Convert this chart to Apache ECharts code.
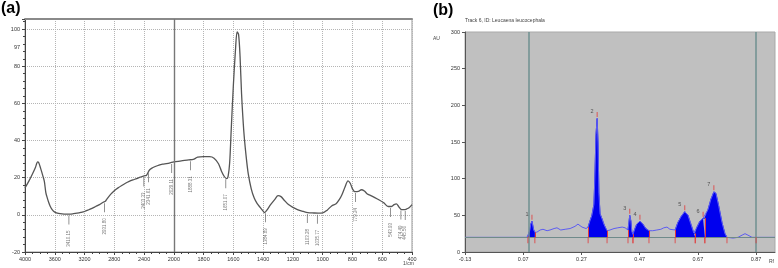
<!DOCTYPE html>
<html><head><meta charset="utf-8">
<script src="https://cdn.jsdelivr.net/npm/echarts@6/dist/echarts.min.js"></script>
<style>html,body{margin:0;padding:0;background:#fff}#c{width:778px;height:268px}</style>
</head><body><div id="c"></div>
<script>
// ---------- Panel (a): FTIR spectrum ----------
const irWavenumber = [4000,3950,3900,3860,3830,3815,3790,3760,3740,3720,3700,3680,3660,3630,3600,3550,3500,3450,3400,3350,3300,3250,3200,3150,3100,3050,3000,2950,2920,2900,2850,2800,2750,2700,2650,2600,2550,2500,2450,2400,2370,2350,2330,2300,2250,2200,2150,2100,2050,2000,1950,1900,1870,1840,1800,1760,1730,1700,1680,1660,1645,1635,1625,1615,1600,1585,1575,1565,1555,1545,1530,1515,1500,1480,1460,1440,1420,1400,1390,1375,1350,1320,1300,1280,1260,1230,1200,1170,1130,1100,1060,1030,1000,970,940,910,890,870,850,830,815,800,785,760,740,720,700,680,650,620,590,560,540,520,505,490,470,450,435,420,400];
const irTransmittance = [14.5,18,22,25.5,28.5,28,25,21,18,12,9,6.5,4.5,2.5,1.5,0.8,0.5,0.4,0.4,0.6,0.9,1.3,1.8,2.6,3.5,4.5,5.5,6.8,7.3,8.5,11,13,14.5,15.8,17,18,18.8,19.5,20.3,21,21.2,22.5,24,25,26,26.8,27.3,27.6,28,28.5,29,29.6,29.8,31,31.3,31.3,30.5,27.5,23.5,20.5,19.5,21,28,45,70,90,98.5,97,85,65,45,32,22,14,9,6,4,2,1.2,2.5,5.5,8.5,10.3,9.8,8,5.5,4,2.8,1.8,1.2,1,0.9,1,2.5,4.8,6,8,11,15,18.3,17,14,12.5,12.6,13.5,12.8,11.2,10.5,9.3,8,6.5,4.5,4.5,5.5,5.9,4.5,2.8,2.8,3.2,3.8,5.5];
const irTickLabels = [4000,3600,3200,2800,2400,2000,1800,1600,1400,1200,1000,800,600,400];
const irPeakMarks = [3410.15,2931.80,2403.33,2341.61,2029.11,1888.31,1651.07,1384.89,1103.28,1035.77,779.24,543.93,474.49,445.56];
const irOddLabel = {value: 90, text: '97'};

// ---------- Panel (b): HPTLC densitogram ----------
const rfValues = [-0.13,0.083,0.086,0.093,0.096,0.100,0.103,0.106,0.110,0.117,0.128,0.138,0.152,0.162,0.176,0.186,0.199,0.214,0.231,0.248,0.258,0.272,0.286,0.293,0.299,0.306,0.313,0.316,0.320,0.324,0.327,0.330,0.334,0.341,0.347,0.354,0.358,0.368,0.382,0.395,0.410,0.420,0.430,0.433,0.436,0.440,0.443,0.447,0.454,0.460,0.471,0.481,0.491,0.502,0.515,0.529,0.543,0.553,0.564,0.574,0.592,0.601,0.612,0.625,0.636,0.646,0.656,0.661,0.667,0.677,0.688,0.694,0.705,0.715,0.725,0.732,0.742,0.753,0.763,0.770,0.791,0.808,0.822,0.832,0.842,0.856,0.935];
const auValues = [20,20,21,30,38,42,40,30,27,27,30,31,29,30,32,33,30,31,32,35,38,34,32,34,42,50,65,100,160,182,150,80,52,45,38,32,29,30,32,33,34,33,30,40,50,42,28,24,32,38,42,38,32,29,29,30,31,33,34,31,30,40,48,55,50,38,26,25,34,42,46,46,58,72,82,80,62,40,25,20,19,20,23,25,23,20,20];
const peakNames = ['1','2','3','4','5','6','7'];
const peakStart = [0.086,0.293,0.430,0.447,0.592,0.661,0.694];
const peakEnd   = [0.110,0.358,0.447,0.502,0.661,0.694,0.770];
const baselineAU = 20;
const startLineRf = 0.085;
const frontLineRf = 0.87;
const rfTickLabels = ['-0.13','0.07','0.27','0.47','0.67','0.87'];

// ---------- helpers ----------
const toP = w => w >= 2000 ? (4000 - w) / 4 : 500 + (2000 - w) / 2;
const fromP = p => p <= 500 ? 4000 - 4 * p : 2000 - 2 * (p - 500);
function interp(xs, ys, x) {
  for (let i = 0; i < xs.length - 1; i++) {
    const a = xs[i], b = xs[i + 1];
    if ((x - a) * (x - b) <= 0) {
      const t = b === a ? 0 : (x - a) / (b - a);
      return ys[i] + t * (ys[i + 1] - ys[i]);
    }
  }
  return ys[ys.length - 1];
}

const irData = irWavenumber.map((w, i) => [toP(w), irTransmittance[i]]);
const irMarkData = irPeakMarks.map(w => ({value: [toP(w), interp(irWavenumber, irTransmittance, w)], name: w.toFixed(2)}));

const tlcData = rfValues.map((r, i) => [r, auValues[i]]);
const peakSeries = peakStart.map((s, k) => ({
  type: 'line', xAxisIndex: 1, yAxisIndex: 1, symbol: 'none', z: 2,
  data: tlcData.filter(d => d[0] >= s - 1e-9 && d[0] <= peakEnd[k] + 1e-9),
  lineStyle: {color: '#0000ee', width: 0.8},
  areaStyle: {color: '#0000ee', opacity: 1, origin: baselineAU},
  silent: true
}));
const apexData = peakStart.map((s, k) => {
  let best = null;
  tlcData.forEach(d => { if (d[0] >= s && d[0] <= peakEnd[k] && (!best || d[1] > best[1])) best = d; });
  return {value: best, name: peakNames[k]};
});
const boundaries = [];
peakStart.forEach((s, k) => { boundaries.push(s); boundaries.push(peakEnd[k]); });
const boundaryLines = boundaries.map(b => [
  {coord: [b, baselineAU]}, {coord: [b, interp(rfValues, auValues, b)]}
]);
const baseMarks = boundaries.concat([frontLineRf]).map(b => [b, baselineAU]);

const chart = echarts.init(document.getElementById('c'), null, {renderer: 'canvas'});
const small = {fontFamily: 'Arial, Liberation Sans, sans-serif', fontSize: 5.5, color: '#333'};

chart.setOption({
  animation: false,
  backgroundColor: '#ffffff',
  graphic: [
    {type: 'text', left: 1, top: 1, style: {text: '(a)', font: 'bold 16px Arial, Liberation Sans, sans-serif', fill: '#000'}},
    {type: 'text', left: 433, top: 3, style: {text: '(b)', font: 'bold 16px Arial, Liberation Sans, sans-serif', fill: '#000'}},
    {type: 'text', left: 465, top: 18, style: {text: 'Track 6, ID: Leucaena leucocephala', font: '5px Arial, Liberation Sans, sans-serif', fill: '#444'}},
    {type: 'text', left: 433, top: 36, style: {text: 'AU', font: '5px Arial, Liberation Sans, sans-serif', fill: '#444'}},
    {type: 'text', left: 403, top: 261, style: {text: '1/cm', font: '5px Arial, Liberation Sans, sans-serif', fill: '#444'}},
    {type: 'text', left: 769, top: 259, style: {text: 'Rf', font: '5px Arial, Liberation Sans, sans-serif', fill: '#444'}}
  ],
  grid: [
    {left: 25, top: 19, width: 387, height: 233, show: true, backgroundColor: '#fff', borderColor: '#999', borderWidth: 1},
    {left: 465, top: 32, width: 310, height: 220, show: true, backgroundColor: '#c0c0c0', borderColor: '#a9a9a9', borderWidth: 1}
  ],
  xAxis: [
    {gridIndex: 0, type: 'value', min: 0, max: 1300, interval: 100,
     axisLine: {onZero: false, lineStyle: {color: '#444'}},
     axisTick: {show: true, length: 3, lineStyle: {color: '#444'}},
     minorTick: {show: true, splitNumber: 4, length: 2, lineStyle: {color: '#444'}},
     axisLabel: Object.assign({margin: 4, formatter: v => String(irTickLabels[Math.round(v / 100)] !== undefined ? Math.round(fromP(v)) : '')}, small),
     splitLine: {show: true, lineStyle: {type: 'dotted', color: '#b5b5b5'}}},
    {gridIndex: 1, type: 'value', min: -0.13, max: 0.935, interval: 0.2,
     axisLine: {onZero: false, lineStyle: {color: '#555'}},
     axisTick: {show: true, length: 3, lineStyle: {color: '#555'}},
     axisLabel: Object.assign({margin: 4, showMaxLabel: false, formatter: v => rfTickLabels[Math.round((v + 0.13) / 0.2)] || ''}, small),
     splitLine: {show: false}},
    {gridIndex: 0, type: 'value', position: 'top', min: 0, max: 1300,
     axisLine: {show: true, onZero: false, lineStyle: {color: '#8a8a8a', width: 2}},
     axisTick: {show: false}, axisLabel: {show: false}, splitLine: {show: false}}
  ],
  yAxis: [
    {gridIndex: 0, type: 'value', min: -20, max: 105.4, interval: 20,
     axisLine: {show: true, onZero: false, lineStyle: {color: '#444'}},
     axisTick: {show: true, length: 3, lineStyle: {color: '#444'}},
     minorTick: {show: true, splitNumber: 5, length: 2, lineStyle: {color: '#444'}},
     axisLabel: Object.assign({margin: 5, showMaxLabel: false}, small),
     splitLine: {show: true, lineStyle: {type: 'dotted', color: '#b5b5b5'}}},
    {gridIndex: 1, type: 'value', min: 0, max: 300, interval: 50,
     axisLine: {show: true, onZero: false, lineStyle: {color: '#555'}},
     axisTick: {show: true, length: 3, lineStyle: {color: '#555'}},
     axisLabel: Object.assign({margin: 5}, small),
     splitLine: {show: false}}
  ],
  series: [
    {type: 'line', xAxisIndex: 0, yAxisIndex: 0, data: irData, symbol: 'none', smooth: 0.3,
     lineStyle: {color: '#555', width: 1.3}, z: 3,
     markLine: {silent: true, symbol: 'none', animation: false,
       data: [
         {xAxis: toP(2000), lineStyle: {color: '#777', width: 1.4, type: 'solid'}, label: {show: false}},
         {yAxis: irOddLabel.value, lineStyle: {color: 'rgba(0,0,0,0)', width: 0}, label: Object.assign({show: true, position: 'start', distance: 5, formatter: irOddLabel.text}, small)}
       ]}},
    {type: 'scatter', xAxisIndex: 0, yAxisIndex: 0, data: irMarkData, symbol: 'rect', symbolSize: [0.8, 9], symbolOffset: [0, 6],
     itemStyle: {color: '#555'}, z: 4,
     label: {show: true, formatter: p => p.name, position: 'bottom', distance: 6, rotate: 90, align: 'right', verticalAlign: 'middle',
             fontSize: 4.5, color: '#555', fontFamily: 'Arial, Liberation Sans, sans-serif'}},
    {type: 'line', xAxisIndex: 1, yAxisIndex: 1, data: tlcData, symbol: 'none', z: 3,
     lineStyle: {color: '#5c5cf2', width: 1},
     markLine: {silent: true, symbol: 'none', animation: false, label: {show: false},
       data: [
         {xAxis: startLineRf, lineStyle: {color: '#6f9090', width: 1.5, type: 'solid'}},
         {xAxis: frontLineRf, lineStyle: {color: '#6f9090', width: 1.5, type: 'solid'}},
         {yAxis: baselineAU, lineStyle: {color: '#6f8a8a', width: 1, type: 'solid'}}
       ]}},
    ...peakSeries,
    {type: 'line', xAxisIndex: 1, yAxisIndex: 1, data: [], symbol: 'none',
     markLine: {silent: true, symbol: 'none', label: {show: false}, lineStyle: {color: '#e23a3a', width: 1, type: 'solid'}, data: boundaryLines}, z: 4},
    {type: 'scatter', xAxisIndex: 1, yAxisIndex: 1, data: baseMarks, symbol: 'rect', symbolSize: [1, 6], symbolOffset: [0, 3],
     itemStyle: {color: '#e23a3a'}, z: 5},
    {type: 'scatter', xAxisIndex: 1, yAxisIndex: 1, data: apexData, symbol: 'rect', symbolSize: [1, 5], symbolOffset: [0, -4],
     itemStyle: {color: '#e23a3a'}, z: 5,
     label: {show: true, formatter: p => p.name, position: 'top', distance: 0, offset: [-5, 2.5], fontSize: 5.5, color: '#333', fontFamily: 'Arial, Liberation Sans, sans-serif'}}
  ]
});
</script></body></html>
